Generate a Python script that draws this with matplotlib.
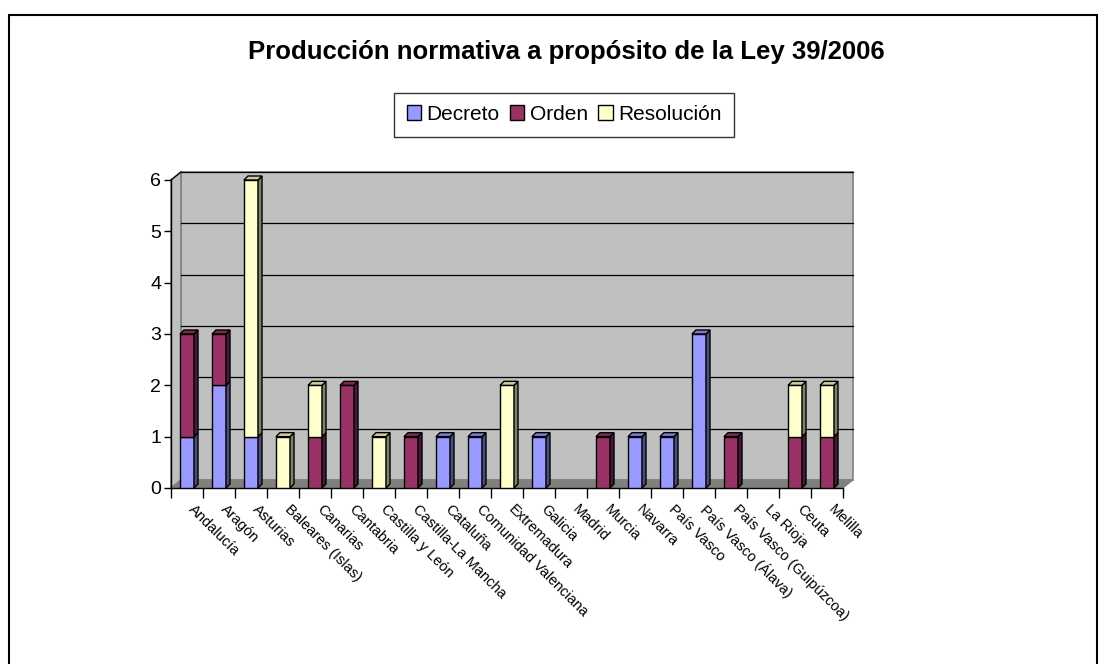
import matplotlib
matplotlib.use("Agg")
import matplotlib.pyplot as plt
from matplotlib.patches import Polygon, Rectangle, Patch
import numpy as np

plt.rcParams['font.family'] = ['Liberation Sans', 'DejaVu Sans']

# ---- data ----
categories = ["Andalucía", "Aragón", "Asturias", "Baleares (Islas)", "Canarias",
              "Cantabria", "Castilla y León", "Castilla-La Mancha", "Cataluña",
              "Comunidad Valenciana", "Extremadura", "Galicia", "Madrid", "Murcia",
              "Navarra", "País Vasco", "País Vasco (Álava)", "País Vasco (Guipúzcoa)",
              "La Rioja", "Ceuta", "Melilla"]
decreto    = [1, 2, 1, 0, 0, 0, 0, 0, 1, 1, 0, 1, 0, 0, 1, 1, 3, 0, 0, 0, 0]
orden      = [2, 1, 0, 0, 1, 2, 0, 1, 0, 0, 0, 0, 0, 1, 0, 0, 0, 1, 0, 1, 1]
resolucion = [0, 0, 5, 1, 1, 0, 1, 0, 0, 0, 2, 0, 0, 0, 0, 0, 0, 0, 0, 1, 1]
series_names = ["Decreto", "Orden", "Resolución"]
yticks = [0, 1, 2, 3, 4, 5, 6]
title = "Producción normativa a propósito de la Ley 39/2006"

front_colors = ["#9999FF", "#993366", "#FFFFCC"]
side_colors = ["#4C4C80", "#4D1A33", "#808066"]
top_colors = ["#7A7ACC", "#7A2952", "#CCCCA3"]

W, H = 1106, 664
fig = plt.figure(figsize=(W / 100, H / 100), dpi=100)

# outer chart border
fig.add_artist(Rectangle((9 / W, -0.02), (1097 - 9) / W, (664 - 15) / H + 0.02,
                         transform=fig.transFigure, fill=False, edgecolor="black",
                         linewidth=1.5))

# axes = front plane
x0, x1, ytop, ybot = 171, 843, 180, 488
ax = fig.add_axes([x0 / W, (H - ybot) / H, (x1 - x0) / W, (ybot - ytop) / H])
n = len(categories)
ax.set_xlim(0, n)
ax.set_ylim(0, 6)
ax.patch.set_visible(False)
pxx = (x1 - x0) / n
pxy = (ybot - ytop) / 6.0
dx, dy = 10 / pxx, 8 / pxy          # wall depth
bdx, bdy = 4 / pxx, 4 / pxy         # bar depth

# floor
ax.add_patch(Polygon([(0, 0), (n, 0), (n + dx, dy), (dx, dy)], closed=True,
                     facecolor="#808080", edgecolor="#808080", lw=0.8, zorder=1,
                     clip_on=False))
# left side wall
ax.add_patch(Polygon([(0, 0), (0, 6), (dx, 6 + dy), (dx, dy)], closed=True,
                     facecolor="#C0C0C0", edgecolor="#808080", lw=1.2, zorder=1,
                     clip_on=False))
# back wall
ax.add_patch(Rectangle((dx, dy), n, 6, facecolor="#C0C0C0", edgecolor="#808080",
                       lw=1.2, zorder=0.5, clip_on=False))
for yv in yticks[1:]:
    ax.plot([dx, n + dx], [yv + dy, yv + dy], color="black", lw=0.9, zorder=1.2,
            clip_on=False)
ax.plot([0, dx], [6, 6 + dy], color="black", lw=0.9, zorder=1.2, clip_on=False)

# bars
xs = np.arange(n) + 0.5
bw = 14 / pxx
vals = [decreto, orden, resolucion]
bottom = np.zeros(n)
for k, v in enumerate(vals):
    v = np.array(v, dtype=float)
    bars = ax.bar(xs, v, bw, bottom=bottom, color=front_colors[k], edgecolor="black",
                  linewidth=1.0, zorder=3, label=series_names[k])
    for i, p in enumerate(bars.patches):
        if v[i] <= 0:
            p.set_visible(False)
    for i in range(n):
        if v[i] <= 0:
            continue
        xr = xs[i] + bw / 2
        b, t = bottom[i], bottom[i] + v[i]
        ax.add_patch(Polygon([(xr, b), (xr + bdx, b + bdy), (xr + bdx, t + bdy), (xr, t)],
                             closed=True, facecolor=side_colors[k], edgecolor="black",
                             lw=1.0, zorder=3, clip_on=False))
    bottom = bottom + v
# top faces on the highest segment
total = np.array(decreto) + np.array(orden) + np.array(resolucion)
for i in range(n):
    if total[i] <= 0:
        continue
    for k in (2, 1, 0):
        if vals[k][i] > 0:
            top_k = k
            break
    xl, xr = xs[i] - bw / 2, xs[i] + bw / 2
    t = total[i]
    ax.add_patch(Polygon([(xl, t), (xr, t), (xr + bdx, t + bdy), (xl + bdx, t + bdy)],
                         closed=True, facecolor=top_colors[top_k], edgecolor="black",
                         lw=1.0, zorder=3.5, clip_on=False))

# axes styling
for s in ("top", "right"):
    ax.spines[s].set_visible(False)
ax.spines["left"].set_linewidth(1.0)
ax.spines["bottom"].set_linewidth(1.0)
ax.spines["left"].set_zorder(2)
ax.spines["bottom"].set_zorder(2)
ax.set_yticks(yticks)
ax.set_yticklabels([str(v) for v in yticks], fontsize=14)
ax.tick_params(axis="y", length=5, width=1, pad=2)
ax.set_xticks(np.arange(n + 1))
ax.set_xticklabels([])
ax.tick_params(axis="x", length=7, width=1, direction="out")
for i, lab in enumerate(categories):
    ax.text(xs[i] + 0.12, -0.38, lab, rotation=-45, rotation_mode="anchor",
            ha="left", va="center", fontsize=10.5, clip_on=False)

# title
fig.text(566 / W, 1 - 52 / H, title, ha="center", va="center", fontsize=18.5,
         fontweight="bold")

# legend
handles = [Patch(facecolor=c, edgecolor="black", lw=1.0) for c in front_colors]
leg = fig.legend(handles, series_names, loc="center", bbox_to_anchor=(564 / W, 1 - 114.5 / H),
                 ncol=3, fontsize=15, frameon=True, fancybox=False, edgecolor="black",
                 handlelength=0.7, handleheight=0.7, handletextpad=0.25, columnspacing=0.5,
                 borderpad=0.6, borderaxespad=0)
leg.get_frame().set_linewidth(1.0)

fig.savefig("out.png", dpi=100)
